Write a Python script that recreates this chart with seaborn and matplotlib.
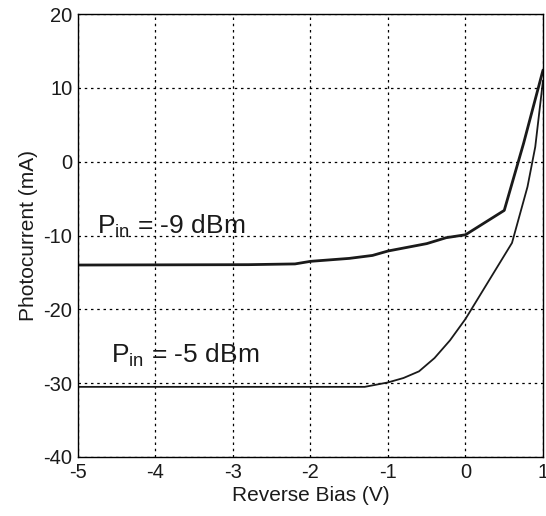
import matplotlib
matplotlib.use("Agg")
import matplotlib.pyplot as plt
import seaborn as sns
import pandas as pd

# Data
bias_9 = [-5.0, -2.8, -2.2, -2.0, -1.5, -1.2, -1.0, -0.75, -0.5, -0.25, 0.0, 0.5, 0.75, 1.0]
curr_9 = [-14.0, -13.95, -13.85, -13.5, -13.1, -12.7, -12.1, -11.6, -11.1, -10.3, -9.9, -6.6, 2.5, 12.4]
bias_5 = [-5.0, -1.3, -1.0, -0.8, -0.6, -0.4, -0.2, 0.0, 0.6, 0.8, 0.9, 1.0]
curr_5 = [-30.5, -30.5, -29.9, -29.3, -28.4, -26.6, -24.2, -21.3, -11.0, -3.4, 2.0, 11.0]
x_ticks = [-5, -4, -3, -2, -1, 0, 1]
y_ticks = [-40, -30, -20, -10, 0, 10, 20]
label_9 = r"P$_{\mathrm{in}}$ = -9 dBm"
label_5 = r"P$_{\mathrm{in}}$ = -5 dBm"

sns.set_style("white")
plt.rcParams["font.family"] = ["Liberation Sans", "DejaVu Sans"]
plt.rcParams["mathtext.fontset"] = "custom"
plt.rcParams["mathtext.rm"] = "Liberation Sans"
plt.rcParams["mathtext.it"] = "Liberation Sans"

df9 = pd.DataFrame({"bias": bias_9, "current": curr_9})
df5 = pd.DataFrame({"bias": bias_5, "current": curr_5})

fig = plt.figure(figsize=(5.46, 5.16), dpi=100)
ax = fig.add_axes([78/546, 1-457/516, 465/546, 443/516])

sns.lineplot(data=df9, x="bias", y="current", ax=ax, color="#1a1a1a", linewidth=2.0,
             sort=False, estimator=None)
sns.lineplot(data=df5, x="bias", y="current", ax=ax, color="#1a1a1a", linewidth=1.3,
             sort=False, estimator=None)

ax.set_xlim(-5, 1)
ax.set_ylim(-40, 20)
ax.set_xticks(x_ticks)
ax.set_yticks(y_ticks)
ax.set_xticklabels([str(t) for t in x_ticks])
ax.set_yticklabels([str(t) for t in y_ticks])
ax.grid(True, color="black", linestyle=(0, (2, 3)), linewidth=0.9)
for s in ax.spines.values():
    s.set_color("black")
    s.set_linewidth(1.0)
ax.tick_params(axis="both", direction="in", length=4, width=0.8, colors="#1a1a1a",
               labelsize=14.5, pad=4)
ax.set_xlabel("Reverse Bias (V)", fontsize=15, labelpad=3, color="#1a1a1a")
ax.set_ylabel("Photocurrent (mA)", fontsize=15, labelpad=4, color="#1a1a1a")

ax.text(-4.75, -9.8, label_9, fontsize=19, color="#1a1a1a", va="baseline", ha="left")
ax.text(-4.57, -27.3, label_5, fontsize=19, color="#1a1a1a", va="baseline", ha="left")

fig.savefig("out.png", dpi=100)
